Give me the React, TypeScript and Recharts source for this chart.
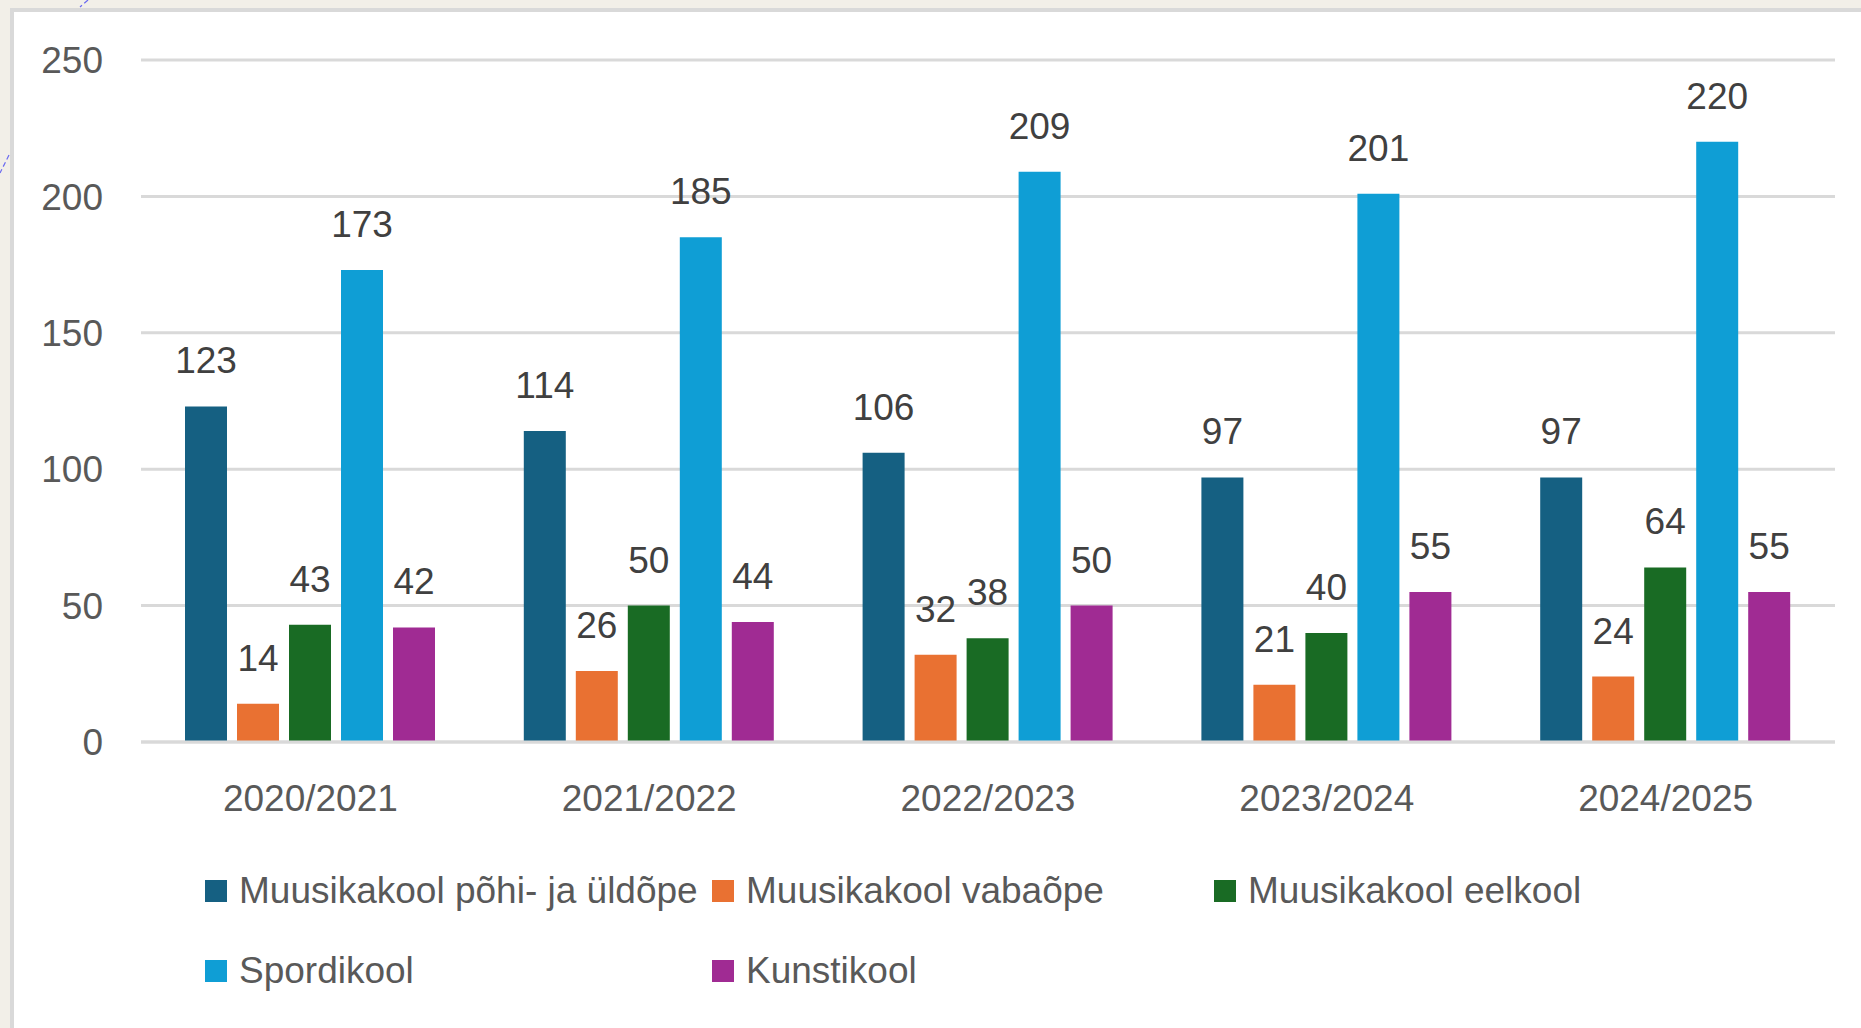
import { BarChart, Bar, XAxis, YAxis, CartesianGrid, LabelList } from "recharts";

const years = ["2020/2021", "2021/2022", "2022/2023", "2023/2024", "2024/2025"];
const muusikaPohi = [123, 114, 106, 97, 97];
const muusikaVaba = [14, 26, 32, 21, 24];
const muusikaEel = [43, 50, 38, 40, 64];
const spordikool = [173, 185, 209, 201, 220];
const kunstikool = [42, 44, 50, 55, 55];
const yTicks = [0, 50, 100, 150, 200, 250];

const series = [
	{ key: "pohi", name: "Muusikakool põhi- ja üldõpe", color: "#156082", values: muusikaPohi },
	{ key: "vaba", name: "Muusikakool vabaõpe", color: "#E97132", values: muusikaVaba },
	{ key: "eel", name: "Muusikakool eelkool", color: "#196B24", values: muusikaEel },
	{ key: "sport", name: "Spordikool", color: "#0F9ED5", values: spordikool },
	{ key: "kunst", name: "Kunstikool", color: "#A02B93", values: kunstikool },
];

const chartData = years.map((year, i) => {
	const row: Record<string, string | number> = { year };
	series.forEach((s) => {
		row[s.key] = s.values[i];
	});
	return row;
});

const FONT = "'Liberation Sans', Arial, sans-serif";
const TEXT = "#595959";

function ChartLegend() {
	return (
		<div style={{
			position: "absolute",
			left: 205,
			top: 851,
			width: 1520,
			display: "flex",
			flexWrap: "wrap",
			fontFamily: FONT,
			fontSize: 37,
			color: TEXT,
		}}>
			{series.map((s) => (
				<div key={s.key}
				     style={{ width: s.key === "vaba" ? 502 : 507, height: 80, display: "flex", alignItems: "center" }}>
					<span style={{ width: 22, height: 22, background: s.color, marginRight: 12, flexShrink: 0 }} />
					<span style={{ whiteSpace: "nowrap" }}>{s.name}</span>
				</div>
			))}
		</div>
	);
}

export default function App() {
	return (
		<div style={{ position: "absolute", left: 0, top: 0, width: 1861, height: 1028, background: "#f2efe8", overflow: "hidden" }}>
			<div style={{
				position: "absolute",
				left: 10,
				top: 8,
				width: 1900,
				height: 1100,
				background: "#ffffff",
				borderLeft: "4px solid #d9d9d9",
				borderTop: "4px solid #d9d9d9",
			}} />
			<svg width={1861} height={1028} style={{ position: "absolute", left: 0, top: 0 }}>
				<line x1={88} y1={0} x2={80} y2={7} stroke="#6a6af0" strokeWidth={1.2} strokeDasharray="5 3" />
				<line x1={9} y1={155} x2={0} y2={173} stroke="#6a6af0" strokeWidth={1.2} strokeDasharray="5 3" />
			</svg>
			<div style={{ position: "absolute", left: 0, top: 0, fontFamily: FONT }}>
				<BarChart width={1861}
				          height={1028}
				          data={chartData}
				          barCategoryGap={44}
				          barGap={10}
				          margin={{ top: 60, right: 26, bottom: 186, left: 0 }}>
					<CartesianGrid vertical={false}
					               stroke="#d9d9d9"
					               strokeWidth={3} />
					<XAxis dataKey="year"
					       height={100}
					       axisLine={{ stroke: "#d9d9d9", strokeWidth: 3 }}
					       tickLine={false}
					       tickSize={0}
					       tickMargin={43}
					       tick={{ fontSize: 37, fill: TEXT, fontFamily: FONT }} />
					<YAxis width={141}
					       domain={[0, 250]}
					       ticks={yTicks}
					       axisLine={false}
					       tickLine={false}
					       tickSize={0}
					       tickMargin={38}
					       tick={{ fontSize: 37, fill: TEXT, fontFamily: FONT }} />
					{series.map((s) => (
						<Bar key={s.key}
						     dataKey={s.key}
						     name={s.name}
						     fill={s.color}
						     isAnimationActive={false}>
							<LabelList dataKey={s.key}
							           position="top"
							           offset={33}
							           fill="#404040"
							           fontSize={37}
							           fontFamily={FONT} />
						</Bar>
					))}
				</BarChart>
			</div>
			<ChartLegend />
		</div>
	);
}
